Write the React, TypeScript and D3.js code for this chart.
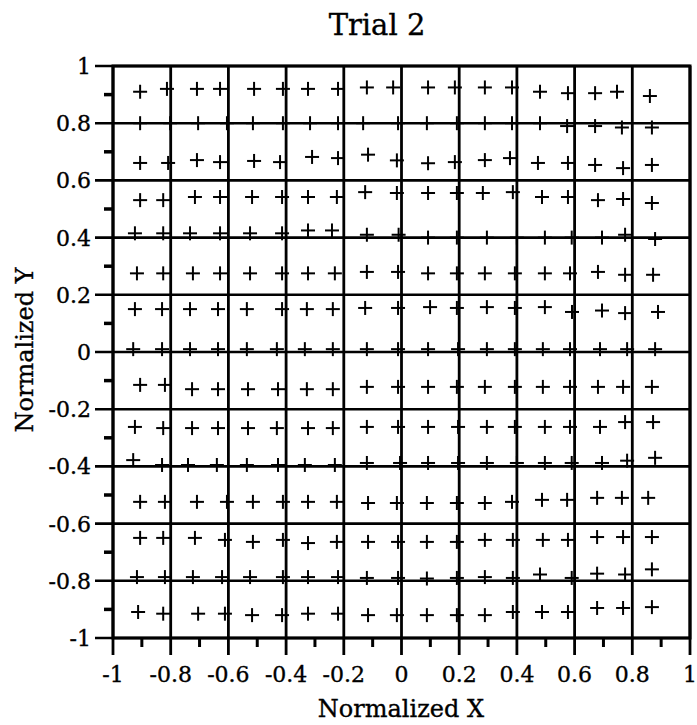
import React from "react";
import * as d3 from "d3";

const W = 697;
const H = 725;

const xTickValues = [-1, -0.8, -0.6, -0.4, -0.2, 0, 0.2, 0.4, 0.6, 0.8, 1];
const xTickLabels = ["-1", "-0.8", "-0.6", "-0.4", "-0.2", "0", "0.2", "0.4", "0.6", "0.8", "1"];
const yTickValues = [1, 0.8, 0.6, 0.4, 0.2, 0, -0.2, -0.4, -0.6, -0.8, -1];
const yTickLabels = ["1", "0.8", "0.6", "0.4", "0.2", "0", "-0.2", "-0.4", "-0.6", "-0.8", "-1"];
const minorTickValues = [-0.9, -0.7, -0.5, -0.3, -0.1, 0.1, 0.3, 0.5, 0.7, 0.9];

// Measured crosses, one row of x values and one row of y values per grid row
const rowX = [
  [-0.906, -0.813, -0.709, -0.629, -0.511, -0.411, -0.324, -0.22, -0.12, -0.029, 0.092, 0.185, 0.289, 0.383, 0.48, 0.577, 0.671, 0.747, 0.861],
  [-0.906, -0.802, -0.705, -0.605, -0.515, -0.411, -0.317, -0.22, -0.133, -0.012, 0.088, 0.192, 0.289, 0.383, 0.48, 0.574, 0.671, 0.764, 0.868],
  [-0.906, -0.809, -0.709, -0.629, -0.511, -0.421, -0.31, -0.22, -0.116, -0.016, 0.092, 0.185, 0.289, 0.376, 0.473, 0.577, 0.671, 0.768, 0.868],
  [-0.906, -0.826, -0.716, -0.629, -0.518, -0.414, -0.324, -0.224, -0.126, -0.016, 0.092, 0.192, 0.282, 0.386, 0.487, 0.577, 0.681, 0.768, 0.868],
  [-0.924, -0.826, -0.733, -0.629, -0.525, -0.414, -0.324, -0.241, -0.12, -0.01, 0.092, 0.192, 0.296, 0.4, 0.497, 0.59, 0.695, 0.775, 0.879],
  [-0.917, -0.826, -0.723, -0.629, -0.525, -0.414, -0.324, -0.231, -0.12, -0.012, 0.092, 0.192, 0.289, 0.393, 0.497, 0.584, 0.681, 0.775, 0.872],
  [-0.924, -0.83, -0.733, -0.636, -0.536, -0.414, -0.328, -0.238, -0.126, -0.012, 0.099, 0.192, 0.296, 0.393, 0.497, 0.591, 0.695, 0.775, 0.889],
  [-0.93, -0.83, -0.733, -0.636, -0.536, -0.432, -0.335, -0.238, -0.12, -0.012, 0.092, 0.196, 0.296, 0.393, 0.49, 0.584, 0.688, 0.782, 0.879],
  [-0.906, -0.82, -0.726, -0.636, -0.532, -0.428, -0.328, -0.238, -0.12, -0.012, 0.092, 0.192, 0.289, 0.393, 0.49, 0.584, 0.681, 0.768, 0.868],
  [-0.924, -0.826, -0.726, -0.636, -0.532, -0.432, -0.324, -0.238, -0.12, -0.012, 0.092, 0.196, 0.296, 0.393, 0.497, 0.584, 0.688, 0.775, 0.872],
  [-0.93, -0.83, -0.74, -0.64, -0.536, -0.428, -0.335, -0.231, -0.12, -0.005, 0.092, 0.196, 0.296, 0.4, 0.497, 0.59, 0.695, 0.782, 0.879],
  [-0.906, -0.82, -0.709, -0.605, -0.515, -0.411, -0.324, -0.224, -0.116, -0.016, 0.088, 0.192, 0.289, 0.383, 0.487, 0.574, 0.678, 0.764, 0.855],
  [-0.906, -0.826, -0.716, -0.612, -0.515, -0.411, -0.324, -0.224, -0.116, -0.012, 0.088, 0.192, 0.289, 0.386, 0.49, 0.577, 0.678, 0.768, 0.868],
  [-0.917, -0.82, -0.723, -0.622, -0.525, -0.411, -0.324, -0.22, -0.12, -0.012, 0.088, 0.192, 0.289, 0.386, 0.48, 0.59, 0.678, 0.775, 0.868],
  [-0.913, -0.826, -0.705, -0.612, -0.518, -0.414, -0.324, -0.22, -0.116, -0.016, 0.088, 0.192, 0.289, 0.386, 0.487, 0.577, 0.678, 0.768, 0.868],
];

const rowY = [
  [0.91, 0.92, 0.92, 0.92, 0.92, 0.92, 0.92, 0.92, 0.925, 0.925, 0.925, 0.925, 0.925, 0.925, 0.91, 0.905, 0.905, 0.91, 0.895],
  [0.8, 0.8, 0.8, 0.8, 0.8, 0.8, 0.8, 0.8, 0.8, 0.8, 0.8, 0.8, 0.8, 0.8, 0.8, 0.79, 0.79, 0.785, 0.785],
  [0.661, 0.661, 0.671, 0.664, 0.668, 0.664, 0.682, 0.678, 0.69, 0.67, 0.66, 0.664, 0.671, 0.678, 0.661, 0.661, 0.654, 0.643, 0.654],
  [0.531, 0.531, 0.542, 0.542, 0.542, 0.542, 0.542, 0.542, 0.559, 0.556, 0.556, 0.556, 0.556, 0.559, 0.542, 0.542, 0.531, 0.535, 0.521],
  [0.415, 0.415, 0.415, 0.415, 0.415, 0.415, 0.425, 0.425, 0.41, 0.41, 0.4, 0.4, 0.4, 0.4, 0.4, 0.4, 0.4, 0.41, 0.395],
  [0.275, 0.275, 0.275, 0.275, 0.275, 0.275, 0.275, 0.275, 0.28, 0.28, 0.275, 0.275, 0.275, 0.275, 0.275, 0.275, 0.28, 0.27, 0.27],
  [0.15, 0.15, 0.15, 0.15, 0.15, 0.15, 0.15, 0.15, 0.154, 0.154, 0.157, 0.154, 0.157, 0.154, 0.157, 0.14, 0.145, 0.136, 0.14],
  [0.01, 0.01, 0.01, 0.01, 0.01, 0.01, 0.01, 0.01, 0.01, 0.01, 0.01, 0.01, 0.01, 0.01, 0.01, 0.01, 0.01, 0.01, 0.01],
  [-0.115, -0.115, -0.13, -0.13, -0.13, -0.13, -0.13, -0.13, -0.122, -0.122, -0.122, -0.122, -0.122, -0.122, -0.122, -0.122, -0.122, -0.122, -0.122],
  [-0.262, -0.266, -0.266, -0.266, -0.266, -0.266, -0.266, -0.266, -0.262, -0.262, -0.262, -0.262, -0.262, -0.262, -0.262, -0.262, -0.262, -0.245, -0.245],
  [-0.378, -0.395, -0.395, -0.395, -0.395, -0.395, -0.395, -0.395, -0.388, -0.388, -0.388, -0.388, -0.388, -0.388, -0.388, -0.388, -0.388, -0.38, -0.37],
  [-0.524, -0.524, -0.524, -0.524, -0.524, -0.524, -0.524, -0.524, -0.528, -0.528, -0.528, -0.528, -0.528, -0.524, -0.517, -0.517, -0.51, -0.51, -0.51],
  [-0.65, -0.65, -0.65, -0.657, -0.664, -0.657, -0.668, -0.664, -0.664, -0.664, -0.664, -0.664, -0.657, -0.657, -0.657, -0.657, -0.647, -0.647, -0.647],
  [-0.787, -0.787, -0.787, -0.787, -0.787, -0.787, -0.787, -0.787, -0.79, -0.79, -0.792, -0.79, -0.787, -0.79, -0.778, -0.79, -0.775, -0.778, -0.76],
  [-0.909, -0.915, -0.915, -0.915, -0.92, -0.92, -0.915, -0.915, -0.92, -0.92, -0.92, -0.92, -0.92, -0.909, -0.909, -0.909, -0.895, -0.895, -0.892],
];

const FONT = "'DejaVu Serif', serif";

export default function App() {
  const x = d3.scaleLinear().domain([-1, 1]).range([113, 690]);
  const y = d3.scaleLinear().domain([-1, 1]).range([638, 66]);
  const [x0, x1] = x.range();
  const [y0, y1] = y.range();
  const arm = 7;

  const points: { px: number; py: number }[] = [];
  rowX.forEach((row, i) => {
    row.forEach((vx, j) => {
      points.push({ px: x(vx), py: y(rowY[i][j]) });
    });
  });

  const textStyle = { stroke: "#000", strokeWidth: 0.35 };

  return (
    <svg
      width={W}
      height={H}
      style={{ position: "absolute", left: 0, top: 0, background: "#fff" }}
    >
      <rect x={0} y={0} width={W} height={H} fill="#fff" />
      <text x={377} y={35} textAnchor="middle" fontFamily={FONT} fontSize={29} fill="#000" style={textStyle}>
        Trial 2
      </text>

      {/* grid lines + major ticks */}
      {xTickValues.map((v) => (
        <line key={"gx" + v} x1={x(v)} x2={x(v)} y1={y1} y2={y0 + 17} stroke="#000" strokeWidth={2.8} />
      ))}
      {yTickValues.map((v) => (
        <line key={"gy" + v} x1={x0 - 18} x2={x1} y1={y(v)} y2={y(v)} stroke="#000" strokeWidth={2.6} />
      ))}
      {/* minor ticks */}
      {minorTickValues.map((v) => (
        <line key={"mx" + v} x1={x(v)} x2={x(v)} y1={y0} y2={y0 + 9} stroke="#000" strokeWidth={3} />
      ))}
      {minorTickValues.map((v) => (
        <line key={"my" + v} x1={x0 - 9} x2={x0} y1={y(v)} y2={y(v)} stroke="#000" strokeWidth={3.5} />
      ))}
      {/* frame */}
      <rect x={x0} y={y1} width={x1 - x0} height={y0 - y1} fill="none" stroke="#000" strokeWidth={3} />

      {/* crosses */}
      {points.map((p, i) => (
        <g key={"p" + i} stroke="#000" strokeWidth={2}>
          <line x1={p.px - arm} x2={p.px + arm} y1={p.py} y2={p.py} />
          <line x1={p.px} x2={p.px} y1={p.py - arm} y2={p.py + arm} />
        </g>
      ))}

      {/* tick labels */}
      {xTickValues.map((v, i) => (
        <text key={"lx" + v} x={x(v)} y={682} textAnchor="middle" fontFamily={FONT} fontSize={22} fill="#000" style={textStyle}>
          {xTickLabels[i]}
        </text>
      ))}
      {yTickValues.map((v, i) => (
        <text key={"ly" + v} x={91} y={y(v)} dy="0.36em" textAnchor="end" fontFamily={FONT} fontSize={22} fill="#000" style={textStyle}>
          {yTickLabels[i]}
        </text>
      ))}

      <text x={401} y={717} textAnchor="middle" fontFamily={FONT} fontSize={24} fill="#000" style={textStyle}>
        Normalized X
      </text>
      <text
        transform={`translate(33, 350) rotate(-90)`}
        textAnchor="middle"
        fontFamily={FONT}
        fontSize={24}
        fill="#000"
        style={textStyle}
      >
        Normalized Y
      </text>
    </svg>
  );
}
